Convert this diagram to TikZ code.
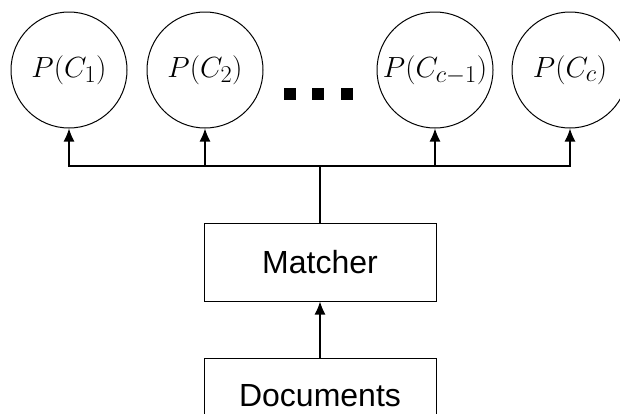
\documentclass[tikz,border=0pt]{standalone}
\usepackage{graphicx}
\usepackage{fontspec}
\setmainfont{Liberation Sans}
\usetikzlibrary{arrows.meta}
\newcommand{\probtxt}[1]{\scalebox{1.17}{\fontsize{24.88}{30}\selectfont$#1$}}
\begin{document}
\begin{tikzpicture}[x=1pt,y=-1pt,
  prob/.style={draw,circle,line width=1pt,minimum size=116pt,inner sep=0pt},
  blk/.style={draw,rectangle,line width=1pt,minimum width=232pt,minimum height=78pt,inner sep=0pt,font=\fontsize{32}{37}\selectfont},
  conn/.style={line width=1.3pt},
  arr/.style={conn,-{Latex[length=13pt,width=11pt]}},
  dot/.style={fill=black,minimum size=12pt,inner sep=0pt}]
\useasboundingbox (0,0) rectangle (620,413);
\clip (0,0) rectangle (620,413);
\fill[white] (0,0) rectangle (620,413);
\node[prob] (c1) at (69,70) {\probtxt{P(C_1)}};
\node[prob] (c2) at (205,70) {\probtxt{P(C_2)}};
\node[prob] (c3) at (435,70) {\probtxt{P(C_{c-1})}};
\node[prob] (c4) at (570,70) {\probtxt{P(C_c)}};
\node[dot] (d1) at (290,94) {};
\node[dot] (d2) at (318,94) {};
\node[dot] (d3) at (347,94) {};
\node[blk] (mat) at (320,262) {Matcher};
\node[blk,anchor=north,minimum height=0pt,text height=43pt,text depth=3pt,inner ysep=5pt] (doc) at (320,358) {Documents};
\coordinate (j) at (320,166);
\draw[conn] (mat.north) -- (j);
\draw[arr] (j) -| (c1.south);
\draw[arr] (j) -| (c2.south);
\draw[arr] (j) -| (c3.south);
\draw[arr] (j) -| (c4.south);
\draw[arr] (doc.north) -- (mat.south);
\end{tikzpicture}
\end{document}
